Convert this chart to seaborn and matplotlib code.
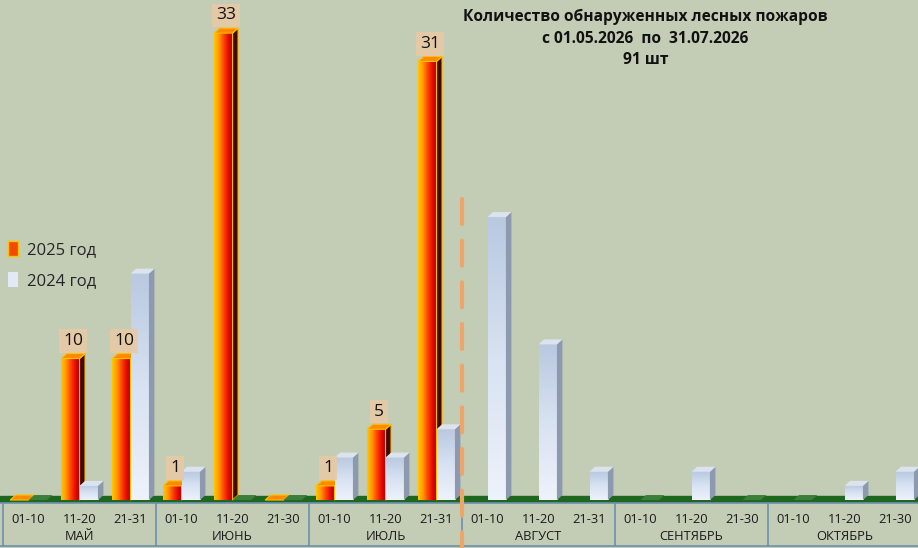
import matplotlib
matplotlib.use("Agg")
import matplotlib.pyplot as plt
import matplotlib.transforms as mtransforms
from matplotlib.colors import LinearSegmentedColormap
from matplotlib.patches import Polygon, Patch
import seaborn as sns
import numpy as np
import pandas as pd

# data
months = ["МАЙ", "ИЮНЬ", "ИЮЛЬ", "АВГУСТ", "СЕНТЯБРЬ", "ОКТЯБРЬ"]
decades = [["01-10", "11-20", "21-31"], ["01-10", "11-20", "21-30"],
           ["01-10", "11-20", "21-31"], ["01-10", "11-20", "21-31"],
           ["01-10", "11-20", "21-30"], ["01-10", "11-20", "21-30"]]
fires_2025 = [0, 10, 10, 1, 33, 0, 1, 5, 31]   # only May-July so far
fires_2024 = [0, 1, 16, 2, 0, 0, 3, 3, 5, 20, 11, 2, 0, 2, 0, 0, 1, 2]
title = "Количество обнаруженных лесных пожаров\nс 01.05.2026  по  31.07.2026\n91 шт"
labels = ["2025 год", "2024 год"]

sns.set_theme(style="white")
plt.rcParams["font.family"] = ["Open Sans", "DejaVu Sans"]

periods = [f"{m} {d}" for m, ds in zip(months, decades) for d in ds]
tick_names = [d for ds in decades for d in ds]
df = pd.concat([
    pd.DataFrame({"period": periods[:len(fires_2025)], "count": fires_2025, "year": labels[0]}),
    pd.DataFrame({"period": periods, "count": fires_2024, "year": labels[1]}),
])

bg = "#C3CDB5"
fig = plt.figure(figsize=(9.18, 5.48), dpi=100, facecolor=bg)
ax = fig.add_axes([0, 45 / 548, 1, 503 / 548])
ax.set_facecolor(bg)

sns.barplot(data=df, x="period", y="count", hue="year", order=periods,
            hue_order=labels, width=0.72, dodge=True, legend=False, ax=ax)

xmin, xmax = -0.56, 17.44
ymin, ymax = -0.21, 35.34
dx = 5.5 / 51 * (xmax - xmin) / 18
dy = 5 * (ymax - ymin) / 503

cm25 = LinearSegmentedColormap.from_list("c25", ["#FFC800", "#FF9A00", "#FF4A00", "#E80C00", "#B40000"])
cm24 = LinearSegmentedColormap.from_list("c24", ["#EEF2FA", "#D8E2F2", "#B9C9E0"])
grad_h = np.linspace(0, 1, 64).reshape(1, -1)
grad_v = np.linspace(0, 1, 64).reshape(-1, 1)

# green 3D floor
ax.axhspan(-0.2, 0.3, color="#1E671E", zorder=1)

styles = [
    dict(cmap=cm25, grad=grad_h, side="#420800", top="#FF8A00", edge="#FFC000", z=3),
    dict(cmap=cm24, grad=grad_v, side="#8D99AE", top="#DCE3EE", edge="none", z=4),
]
for cont, st in zip(ax.containers, styles):
    for bar in cont:
        x0, w, h = bar.get_x(), bar.get_width(), bar.get_height()
        bar.set_visible(False)
        z = st["z"]
        if h > 0:
            ax.imshow(st["grad"], cmap=st["cmap"], extent=[x0, x0 + w, 0, h],
                      aspect="auto", origin="lower", zorder=z, interpolation="bicubic")
            ax.add_patch(Polygon([(x0 + w, 0), (x0 + w + dx, dy), (x0 + w + dx, h + dy), (x0 + w, h)],
                                 closed=True, facecolor=st["side"], edgecolor=st["edge"],
                                 linewidth=0.8, zorder=z))
        ax.add_patch(Polygon([(x0, h), (x0 + dx, h + dy), (x0 + w + dx, h + dy), (x0 + w, h)],
                             closed=True, facecolor=st["top"] if (h > 0 or z == 3) else "#3C7F3C",
                             edgecolor=st["edge"], linewidth=0.8, zorder=z + 0.1))

# value labels for 2025
for bar, v in zip(ax.containers[0], fires_2025):
    if v > 0:
        ax.text(bar.get_x() + bar.get_width() / 2 + dx / 2, v + 1.25, str(v),
                ha="center", va="center", fontsize=12.5, color="#111111", zorder=6,
                bbox=dict(boxstyle="square,pad=0.22", facecolor="#E9C9A4", edgecolor="none", alpha=0.85))

# dashed marker after July
ax.plot([8.5, 8.5], [21.3, -3.4], linestyle=(0, (6, 4)), color="#EFA46A",
        linewidth=3, dash_capstyle="round", clip_on=False, zorder=5)

ax.set_xlim(xmin, xmax)
ax.set_ylim(ymin, ymax)
ax.set_yticks([])
ax.set_xticks(range(len(periods)))
ax.set_xticklabels(tick_names, fontsize=9.3, color="#1A1A1A")
ax.tick_params(axis="x", length=0, pad=7)
ax.set_xlabel("")
ax.set_ylabel("")
for s in ax.spines.values():
    s.set_visible(False)

# category table below the floor
trans = mtransforms.blended_transform_factory(ax.transData, ax.transAxes)
line_c = "#6F8FB0"
ax.plot([xmin, xmax], [0, 0], color=line_c, lw=1.2, transform=trans, clip_on=False)
ax.plot([xmin, xmax], [-43 / 503, -43 / 503], color=line_c, lw=1.2, transform=trans, clip_on=False)
for k in range(len(months) + 1):
    xs = 3 * k - 0.5
    ax.plot([xs, xs], [0, -43 / 503], color=line_c, lw=1.2, transform=trans, clip_on=False)
for k, m in enumerate(months):
    ax.text(3 * k + 1, -34 / 503, m, transform=trans, ha="center", va="center",
            fontsize=9.3, color="#1A1A1A")

ax.legend(handles=[Patch(facecolor="#F24A00", edgecolor="#FFC000"),
                   Patch(facecolor="#E4EAF5", edgecolor="none")],
          labels=labels, loc="center left", bbox_to_anchor=(0.0, 0.473), frameon=False,
          fontsize=12, handlelength=0.6, handleheight=1.0, handletextpad=0.5,
          labelspacing=0.8, borderaxespad=0.0, borderpad=0.5)

fig.text(0.703, 0.984, title, ha="center", va="top", fontsize=11.2,
         fontweight="bold", linespacing=1.48, color="#111111")

fig.savefig("out.png", dpi=100, facecolor=bg)
